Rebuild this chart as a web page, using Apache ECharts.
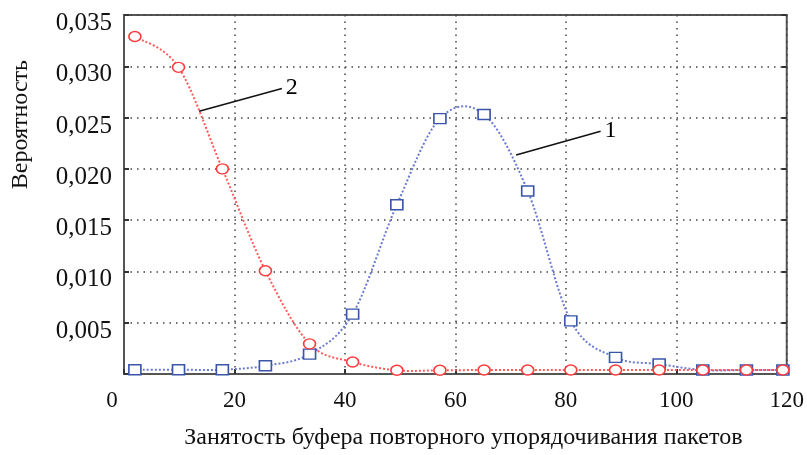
<!DOCTYPE html>
<html>
<head>
<meta charset="utf-8">
<script src="https://cdn.jsdelivr.net/npm/echarts@6/dist/echarts.min.js"></script>
<style>html,body{margin:0;padding:0;background:#fff}#c{width:807px;height:455px}</style>
</head>
<body>
<div id="c"></div>
<script>
// Data
const xValues = [1.97, 9.87, 17.81, 25.6, 33.6, 41.4, 49.4, 57.2, 65.2, 73.1, 80.9, 89.0, 96.9, 104.8, 112.7, 119.3];
const curve1 = [0.00042, 0.00042, 0.00042, 0.0008, 0.00194, 0.00584, 0.0165, 0.0249, 0.0253, 0.01784, 0.00518, 0.00162, 0.00097, 0.00039, 0.00039, 0.00039];
const curve2 = [0.0329, 0.0299, 0.0200, 0.01007, 0.00294, 0.00117, 0.00036, 0.00036, 0.00039, 0.00039, 0.00039, 0.00039, 0.00039, 0.00039, 0.00039, 0.00039];
const curveLabels = ['1', '2'];
// leader-line endpoints in data coordinates [x, y]
const leader1 = [[71.0, 0.02136], [86.3, 0.02366]];
const leader2 = [[13.6, 0.02561], [28.6, 0.02784]];
const xName = 'Занятость буфера повторного упорядочивания пакетов';
const yName = 'Вероятность';

const FONT = "'Liberation Serif', 'DejaVu Serif', serif";
const pair = (xs, ys) => xs.map((x, i) => [x, ys[i]]);
const leaderLine = (pts, label) => ({
  symbol: 'none', silent: true, animation: false,
  lineStyle: { color: '#111', type: 'solid', width: 1.5 },
  label: { show: true, position: 'end', formatter: label, color: '#000', fontSize: 24, fontFamily: FONT, distance: 4 },
  data: [[{ coord: pts[0] }, { coord: pts[1] }]]
});
// Smooth curve (Catmull-Rom) through the data points, mapped by the chart's own axes
const splineSeries = (ys, color, z) => ({
  type: 'custom', silent: true, z: z,
  data: [[xValues[0], ys[0]]],
  renderItem: (params, api) => {
    const p = xValues.map((x, i) => api.coord([x, ys[i]]));
    const n = p.length;
    let d = 'M' + p[0][0] + ' ' + p[0][1];
    for (let i = 0; i < n - 1; i++) {
      const p0 = p[Math.max(i - 1, 0)], p1 = p[i], p2 = p[i + 1], p3 = p[Math.min(i + 2, n - 1)];
      const c1x = p1[0] + (p2[0] - p0[0]) / 6, c1y = p1[1] + (p2[1] - p0[1]) / 6;
      const c2x = p2[0] - (p3[0] - p1[0]) / 6, c2y = p2[1] - (p3[1] - p1[1]) / 6;
      d += ' C' + c1x + ' ' + c1y + ' ' + c2x + ' ' + c2y + ' ' + p2[0] + ' ' + p2[1];
    }
    return { type: 'path', shape: { pathData: d }, style: { fill: 'none', stroke: color, lineWidth: 2, lineDash: [2, 2] } };
  }
});
const yLabelFmt = v => v === 0 ? '' : '{a|' + v.toFixed(3).replace('.', ',') + '}';

const chart = echarts.init(document.getElementById('c'));
chart.setOption({
  animation: false,
  backgroundColor: '#fff',
  grid: { left: 124, right: 14, top: 15, bottom: 78, show: true, borderColor: '#555', borderWidth: 2 },
  xAxis: {
    type: 'value', min: 0, max: 120, interval: 20,
    name: xName, nameLocation: 'middle', nameGap: 52,
    nameTextStyle: { fontFamily: FONT, fontSize: 24, color: '#111', padding: [0, 0, 0, 16] },
    axisLine: { show: true, lineStyle: { color: '#555', width: 2 } },
    axisTick: { show: true, inside: true, length: 5, lineStyle: { color: '#333', width: 2 } },
    axisLabel: {
      margin: 15, color: '#111', fontFamily: FONT, fontSize: 23,
      formatter: v => v === 0 ? '{z|0}' : String(v),
      rich: { z: { fontFamily: FONT, fontSize: 23, color: '#111', padding: [0, 24, 0, 0] } }
    },
    splitLine: { show: true, lineStyle: { color: '#444', type: [1.5, 5], width: 1.5 } }
  },
  yAxis: [{
    type: 'value', min: 0, max: 0.035, interval: 0.005,
    axisLine: { show: true, lineStyle: { color: '#555', width: 2 } },
    axisTick: { show: true, inside: true, length: 5, lineStyle: { color: '#333', width: 2 } },
    axisLabel: {
      margin: 12, color: '#111', fontFamily: FONT, fontSize: 25,
      formatter: yLabelFmt,
      rich: { a: { fontFamily: FONT, fontSize: 25, color: '#111', padding: [17, 0, 0, 0] } }
    },
    splitLine: { show: true, lineStyle: { color: '#444', type: [1.5, 5], width: 1.5 } }
  }, {
    type: 'value', min: 0, max: 0.035, interval: 0.005, position: 'right',
    axisLine: { show: false }, axisLabel: { show: false }, splitLine: { show: false },
    axisTick: { show: true, inside: true, length: 5, lineStyle: { color: '#333', width: 2 } }
  }],
  graphic: [{
    type: 'text', left: 9, top: 60, rotation: Math.PI / 2,
    style: { text: yName, fontFamily: FONT, fontSize: 24, fill: '#111' }
  }],
  series: [
    splineSeries(curve1, '#6a7bd0', 2),
    splineSeries(curve2, '#ff5a5a', 2),
    {
      name: curveLabels[0], type: 'scatter', data: pair(xValues, curve1),
      symbol: 'rect', symbolSize: [12, 10],
      itemStyle: { color: '#fff', borderColor: '#3a55aa', borderWidth: 1.5, opacity: 1 },
      z: 3,
      markLine: leaderLine(leader1, curveLabels[0])
    }, {
      name: curveLabels[1], type: 'scatter', data: pair(xValues, curve2),
      symbol: 'circle', symbolSize: [12, 10],
      itemStyle: { color: '#fff', borderColor: '#ff3a3a', borderWidth: 1.5, opacity: 1 },
      z: 4,
      markLine: leaderLine(leader2, curveLabels[1])
    }
  ]
});
</script>
</body>
</html>
